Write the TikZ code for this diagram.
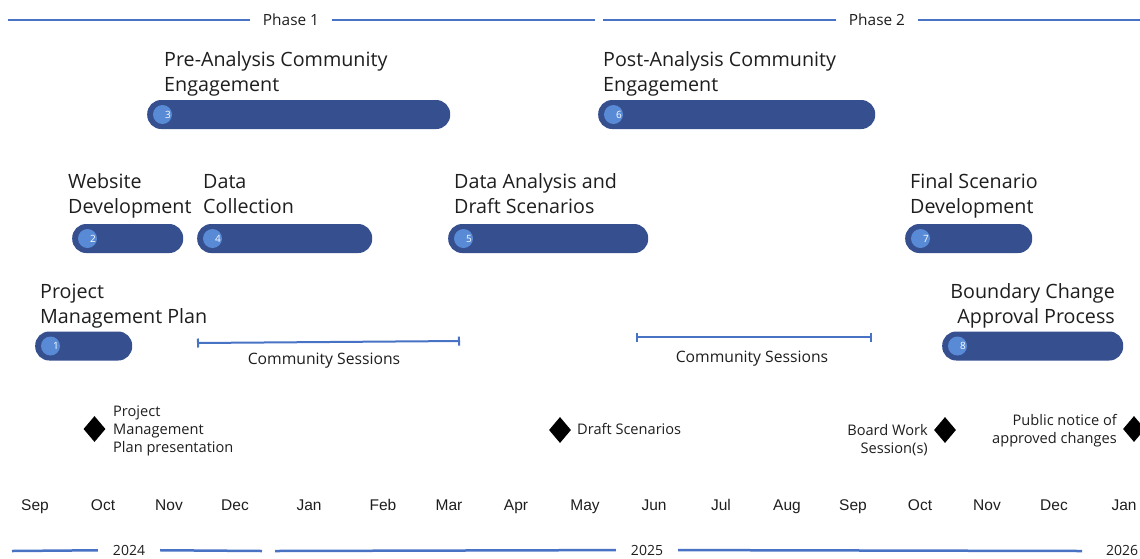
\documentclass[tikz,border=0pt]{standalone}
\usepackage{fontspec}
\setmainfont{Open Sans}
\newfontfamily\monthfont{Liberation Sans}
\usetikzlibrary{shapes.geometric,arrows.meta}
\definecolor{barblue}{RGB}{54,79,143}
\definecolor{dotblue}{RGB}{88,138,214}
\definecolor{lineblue}{RGB}{72,114,196}
\definecolor{textgray}{RGB}{30,30,30}
\begin{document}
\begin{tikzpicture}[x=1pt,y=-1pt,
  bar/.style={fill=barblue,rounded corners=14pt,minimum height=29pt,inner sep=0pt,anchor=west},
  dot/.style={circle,fill=dotblue,minimum size=19pt,inner sep=0pt},
  num/.style={text=white,inner sep=0pt,font=\fontsize{10}{10}\selectfont},
  task/.style={align=left,anchor=base west,inner sep=0pt,text=textgray,font=\fontsize{19.7}{25}\selectfont},
  note/.style={inner sep=0pt,text=textgray,font=\fontsize{14.6}{18}\selectfont},
  mile/.style={diamond,fill=black,minimum width=22pt,minimum height=26pt,inner sep=0pt},
  rule/.style={draw=lineblue,line width=2.5pt},
  span/.style={draw=lineblue,line width=2pt,{Bar[width=9pt]}-{Bar[width=9pt]}},
  month/.style={anchor=base,text=textgray,font=\monthfont\fontsize{15.5}{15.5}\selectfont},
  tag/.style={text=textgray,inner xsep=15pt,inner ysep=0pt,font=\fontsize{14}{14}\selectfont},
]
\useasboundingbox (0,0) rectangle (1140,558);

% phases
\node[tag,font=\fontsize{15.4}{15.4}\selectfont,inner xsep=13pt] (ph1) at (291,20) {Phase 1};
\node[tag,font=\fontsize{15.4}{15.4}\selectfont,inner xsep=13pt] (ph2) at (877,20) {Phase 2};
\coordinate (p1a) at (8,20);
\coordinate (p1b) at (595,20);
\coordinate (p2a) at (603,20);
\coordinate (p2b) at (1140,20);
\draw[rule] (p1a) -- (ph1) -- (p1b);
\draw[rule] (p2a) -- (ph2) -- (p2b);

% bars
\node[bar,minimum width=303pt] (bar3) at (147,114.5) {};
\node[bar,minimum width=277pt] (bar6) at (598,114.5) {};
\node[bar,minimum width=111pt] (bar2) at (72,238.5) {};
\node[bar,minimum width=175pt] (bar4) at (197,238.5) {};
\node[bar,minimum width=200pt] (bar5) at (448,238.5) {};
\node[bar,minimum width=127pt] (bar7) at (905,238.5) {};
\node[bar,minimum width=97pt] (bar1) at (35,346) {};
\node[bar,minimum width=181pt] (bar8) at (942,346) {};

% numbers
\foreach \n in {1,...,8} {
  \node[dot] (dot\n) at ([xshift=15.5pt]bar\n.west) {};
  \node[num] (num\n) at ([xshift=21pt]bar\n.west) {\n};
}

% task labels (base = last line)
\node[task] (t3) at (164,91) {Pre-Analysis Community\\Engagement};
\node[task] (t6) at (603,91) {Post-Analysis Community\\Engagement};
\node[task] (t2) at (68,213) {Website\\Development};
\node[task] (t4) at (203,213) {Data\\Collection};
\node[task] (t5) at (454,213) {Data Analysis and\\Draft Scenarios};
\node[task] (t7) at (910,213) {Final Scenario\\Development};
\node[task] (t1) at (40,323) {Project\\Management Plan};
\node[task,align=right,anchor=base east] (t8) at (1115,323) {Boundary Change\\Approval Process};

% community sessions
\coordinate (cs1a) at (197,343);
\coordinate (cs1b) at (460,341);
\coordinate (cs2a) at (636,337);
\coordinate (cs2b) at (872,337);
\draw[span] (cs1a) -- (cs1b);
\draw[span] (cs2a) -- (cs2b);
\node[note,anchor=base,font=\fontsize{15.7}{18}\selectfont] (cs1) at (324,364) {Community Sessions};
\node[note,anchor=base,font=\fontsize{15.7}{18}\selectfont] (cs2) at (752,362) {Community Sessions};

% milestones
\node[mile] (m1) at (94.5,429) {};
\node[mile] (m2) at (560,430) {};
\node[mile] (m3) at (945,430) {};
\node[mile] (m4) at (1134,429) {};
\node[note,align=left,anchor=base west] (n1) at (113,452) {Project\\Management\\Plan presentation};
\node[note,anchor=base west] (n2) at (577,434) {Draft Scenarios};
\node[note,align=right,anchor=base east] (n3) at (928,453) {Board Work\\Session(s)};
\node[note,align=right,anchor=base east] (n4) at (1117,443) {Public notice of\\approved changes};

% months
\foreach \m/\x in {Sep/35,Oct/103,Nov/169,Dec/235,Jan/309,Feb/383,Mar/449,Apr/516,May/585,
  Jun/654,Jul/721,Aug/787,Sep/853,Oct/920,Nov/987,Dec/1054,Jan/1124}
  \node[month] (mo\x) at (\x,510) {\m};

% years
\node[tag] (y24) at (129,550) {2024};
\node[tag] (y25) at (647,550) {2025};
\node[tag,anchor=west] (y26) at (1091,550) {2026};
\coordinate (y24a) at (12,551);
\coordinate (y24b) at (262,551);
\coordinate (y25a) at (275,551);
\coordinate (y25b) at (1082,551);
\draw[rule] (y24a) -- (y24) -- (y24b);
\draw[rule] (y25a) -- (y25) -- (y25b);

\end{tikzpicture}
\end{document}
